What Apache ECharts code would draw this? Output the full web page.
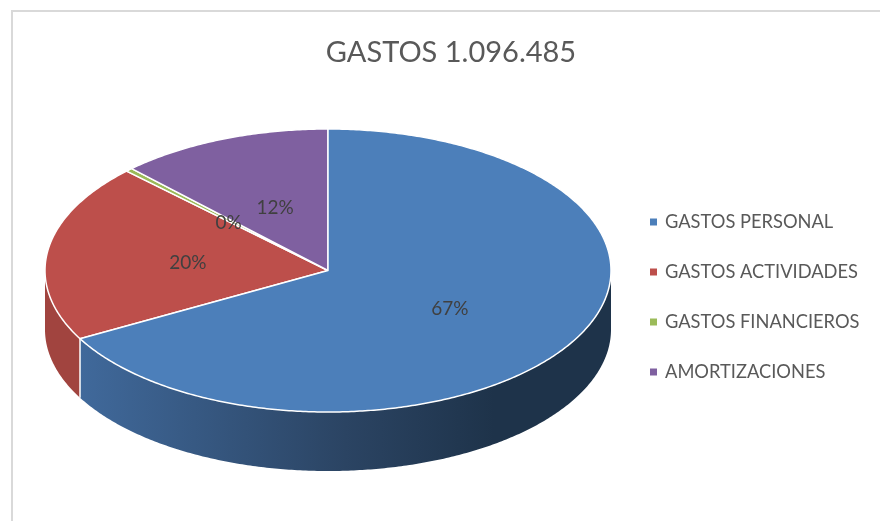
<!DOCTYPE html>
<html>
<head>
<meta charset="utf-8">
<style>html,body{margin:0;padding:0;background:#fff}#c{width:880px;height:521px}</style>
<script src="https://cdn.jsdelivr.net/npm/echarts@6/dist/echarts.min.js"></script>
</head>
<body>
<div id="c"></div>
<script>
var titleText = 'GASTOS 1.096.485';
var categories = ['GASTOS PERSONAL', 'GASTOS ACTIVIDADES', 'GASTOS FINANCIEROS', 'AMORTIZACIONES'];
var shares = [67.0, 20.4, 0.4, 12.2];
var topColors = ['#4C7FBA', '#BD4F4B', '#9BBB59', '#7F60A0'];
var wallStops = [
  [[0, '#40699B'], [0.5, '#2B4463'], [0.78, '#1E334A'], [1, '#1E334A']],
  [[0, '#A1443F'], [1, '#A1443F']],
  [[0, '#7C9647'], [1, '#7C9647']],
  [[0, '#654C80'], [1, '#654C80']]
];

var CX = 328, CY = 270.5, RX = 283, RY = 141.5, DEPTH = 59;
var total = shares.reduce(function (a, b) { return a + b; }, 0);
var font = 'Lato, Carlito, Calibri, sans-serif';

function pt(angle, dy, f) {
  f = f === undefined ? 1 : f;
  return [CX + RX * f * Math.sin(angle), CY + (dy || 0) - RY * f * Math.cos(angle)];
}
function arc(a0, a1, dy) {
  var n = Math.max(2, Math.ceil(Math.abs(a1 - a0) / 0.01)), out = [];
  for (var i = 0; i <= n; i++) out.push(pt(a0 + (a1 - a0) * i / n, dy));
  return out;
}
function range(idx) {
  var s = 0;
  for (var i = 0; i < idx; i++) s += shares[i];
  return [s / total * Math.PI * 2, (s + shares[idx]) / total * Math.PI * 2];
}

function renderSlice(idx) {
  return function (params, api) {
    var r = range(idx), a0 = r[0], a1 = r[1], children = [];
    // visible front wall: the part of the rim between 90deg and 270deg
    var w0 = Math.max(a0, Math.PI / 2), w1 = Math.min(a1, Math.PI * 1.5);
    if (w1 > w0) {
      var top = arc(w0, w1, 0), bottom = arc(w1, w0, DEPTH);
      children.push({
        type: 'polygon', shape: { points: top.concat(bottom) },
        style: {
          fill: { type: 'linear', x: 0, y: 0, x2: 1, y2: 0, colorStops: wallStops[idx].map(function (s) { return { offset: s[0], color: s[1] }; }) },
          stroke: null
        }
      });
      children.push({
        type: 'polyline', shape: { points: [pt(a1, 0), pt(a1, DEPTH)] },
        style: { stroke: '#fff', lineWidth: 1.5, fill: null }
      });
    }
    children.push({
      type: 'polygon', shape: { points: [[CX, CY]].concat(arc(a0, a1, 0)) },
      style: { fill: topColors[idx], stroke: '#fff', lineWidth: 1.5, lineJoin: 'round' }
    });
    return { type: 'group', children: children };
  };
}

function renderLabel(idx) {
  return function () {
    var r = range(idx), p = pt((r[0] + r[1]) / 2, 2.5, 0.5);
    return {
      type: 'text', z2: 100,
      style: {
        x: p[0], y: p[1], text: Math.round(shares[idx] / total * 100) + '%',
        fill: '#404040', font: '19px ' + font, textAlign: 'center', textVerticalAlign: 'middle'
      }
    };
  };
}

var series = categories.map(function (name, i) {
  return {
    name: name, type: 'custom', coordinateSystem: 'none', silent: true, z: 2 + (i === 0 ? 1 : 0),
    itemStyle: { color: topColors[i] }, data: [shares[i]], renderItem: renderSlice(i)
  };
});
categories.forEach(function (name, i) {
  series.push({
    type: 'custom', coordinateSystem: 'none', silent: true, z: 10,
    data: [shares[i]], renderItem: renderLabel(i)
  });
});

var chart = echarts.init(document.getElementById('c'), null, { renderer: 'canvas' });
chart.setOption({
  animation: false,
  backgroundColor: '#fff',
  title: {
    text: titleText, left: 446, top: 33, textAlign: 'center',
    textStyle: { fontFamily: font, fontSize: 29, fontWeight: 'normal', color: '#595959' }
  },
  legend: {
    data: categories, orient: 'vertical', left: 645, top: 208, itemGap: 32,
    icon: 'rect', itemWidth: 7, itemHeight: 7,
    textStyle: { fontFamily: font, fontSize: 18.3, color: '#595959', padding: [0, 0, 0, 3] },
    selectedMode: false
  },
  graphic: [{
    type: 'rect', silent: true, z: 0,
    shape: { x: 12, y: 11, width: 900, height: 600 },
    style: { fill: null, stroke: '#D9D9D9', lineWidth: 2 }
  }],
  series: series
});
</script>
</body>
</html>
